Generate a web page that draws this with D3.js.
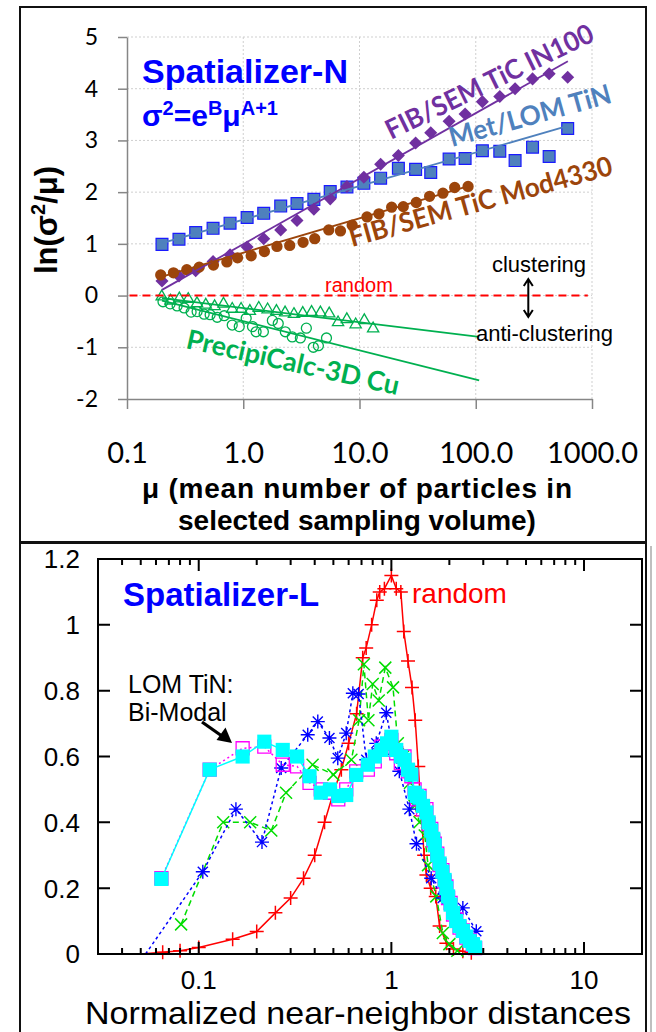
<!DOCTYPE html>
<html>
<head>
<meta charset="utf-8">
<title>Spatializer</title>
<script src="https://cdn.jsdelivr.net/npm/d3@7"></script>
<style>
  html, body { margin: 0; padding: 0; background: #fff; }
  svg { display: block; }
</style>
</head>
<body>
<div id="chart"></div>
<script>
// ---- Spatializer-N : ln(variance/mean) against mean count ----
const nTicksX = [0.1, 1, 10, 100, 1000]
const nTickLabelsX = ['0.1', '1.0', '10.0', '100.0', '1000.0']
const nTicksY = [-2, -1, 0, 1, 2, 3, 4, 5]

// sampling volumes used for the TiN and IN100 data sets
const muSteps = [0.2, 0.28, 0.39, 0.55, 0.77, 1.08, 1.5, 2.1, 2.9, 4.05, 5.6, 7.8, 10.9, 15.2, 21.6, 30.4, 41, 59, 81, 114, 161, 218, 308, 428, 618]
const metLomTiN = [0.99, 1.09, 1.22, 1.30, 1.40, 1.51, 1.59, 1.73, 1.78, 1.86, 2.01, 2.10, 2.17, 2.27, 2.46, 2.44, 2.38, 2.64, 2.65, 2.80, 2.79, 2.61, 2.87, 2.69, 3.23]
const fibIN100 = [0.28, 0.38, 0.48, 0.66, 0.79, 0.94, 1.10, 1.27, 1.45, 1.67, 1.87, 2.11, 2.29, 2.54, 2.71, 2.95, 3.15, 3.37, 3.51, 3.75, 3.85, 4.00, 4.19, 4.29, 4.22]

const muMod4330 = [0.195, 0.251, 0.327, 0.418, 0.554, 0.723, 0.893, 1.17, 1.52, 1.95, 2.51, 3.27, 4.12, 5.44, 6.86, 8.65, 11.6, 14.7, 18.9, 23.8, 30.8, 40.1, 52.2, 65.9, 85.9]
const fibMod4330 = [0.40, 0.44, 0.50, 0.55, 0.59, 0.65, 0.73, 0.77, 0.85, 0.95, 0.97, 1.03, 1.10, 1.27, 1.25, 1.36, 1.52, 1.58, 1.71, 1.72, 1.80, 1.92, 1.98, 2.09, 2.11]

const muCuTri = [0.199, 0.237, 0.282, 0.336, 0.400, 0.476, 0.567, 0.676, 0.804, 0.958, 1.14, 1.36, 1.62, 1.93, 2.29, 2.73, 3.25, 3.87, 4.61, 5.49, 6.54, 7.78, 9.27, 11.0, 13.1]
const cuTri = [-0.02, -0.10, -0.06, -0.07, -0.15, -0.18, -0.21, -0.16, -0.26, -0.26, -0.30, -0.24, -0.27, -0.30, -0.33, -0.36, -0.34, -0.32, -0.33, -0.35, -0.52, -0.46, -0.56, -0.48, -0.64]

const muCuCirc = [0.204, 0.235, 0.270, 0.310, 0.356, 0.401, 0.461, 0.519, 0.597, 0.686, 0.804, 0.924, 1.06, 1.20, 1.29, 1.49, 1.78, 2.00, 2.30, 2.64, 3.10, 3.49, 4.01, 4.43, 5.20]
const cuCirc = [-0.12, -0.16, -0.20, -0.24, -0.32, -0.31, -0.36, -0.37, -0.42, -0.39, -0.57, -0.60, -0.44, -0.60, -0.70, -0.70, -0.48, -0.54, -0.70, -0.80, -0.82, -0.63, -1.00, -0.97, -0.82]

// fitted power laws as [mu, ln(var/mean)] end points
const fitTiN = [[0.19, 1.0], [620, 3.28]]
const fitIN100 = [[0.2, 0.11], [620, 4.53]]
const fitMod4330 = [[0.19, 0.35], [88, 2.12]]
const fitCuTri = [[0.2, -0.05], [107, -0.80]]
const fitCuCirc = [[0.2, -0.10], [107, -1.64]]
const randomLevel = [[0.105, 0], [920, 0]]

// ---- Spatializer-L : near-neighbour distance distributions ----
const lTicksX = [0.1, 1, 10]
const lTickLabelsX = ['0.1', '1', '10']
const lTicksY = [0, 0.2, 0.4, 0.6, 0.8, 1, 1.2]
const lTickLabelsY = ['0', '0.2', '0.4', '0.6', '0.8', '1', '1.2']

const dRandom = [0.05, 0.065, 0.08, 0.1, 0.15, 0.2, 0.25, 0.3, 0.35, 0.4, 0.45, 0.5, 0.55, 0.6, 0.66, 0.71, 0.74, 0.79, 0.84, 0.87, 0.92, 1.0, 1.06, 1.12, 1.16, 1.22, 1.28, 1.33, 1.38, 1.43, 1.48, 1.52, 1.6, 1.7, 1.78, 1.93, 2.1, 2.35, 2.6, 2.99]
const pRandom = [0, 0.005, 0.01, 0.02, 0.045, 0.068, 0.125, 0.17, 0.23, 0.30, 0.40, 0.49, 0.56, 0.64, 0.73, 0.90, 0.93, 1.0, 1.075, 1.10, 1.11, 1.15, 1.11, 1.10, 0.98, 0.89, 0.81, 0.71, 0.57, 0.42, 0.30, 0.24, 0.20, 0.175, 0.085, 0.033, 0.015, 0.008, 0.004, 0]

const dGreen = [0.081, 0.134, 0.185, 0.238, 0.284, 0.39, 0.50, 0.62, 0.68, 0.72, 0.76, 0.80, 0.86, 0.93, 1.02, 1.08, 1.15, 1.25, 1.32, 1.40, 1.49, 1.55, 1.71, 1.85, 2.0, 2.2]
const pGreen = [0.09, 0.40, 0.40, 0.375, 0.49, 0.575, 0.545, 0.59, 0.71, 0.88, 0.71, 0.82, 0.77, 0.87, 0.81, 0.64, 0.60, 0.52, 0.45, 0.40, 0.36, 0.27, 0.175, 0.064, 0.03, 0.01]

const dBlue = [0.053, 0.105, 0.156, 0.213, 0.268, 0.368, 0.415, 0.477, 0.527, 0.583, 0.631, 0.676, 0.741, 0.835, 0.941, 1.02, 1.10, 1.24, 1.35, 1.61, 1.85, 2.13, 2.35, 2.76]
const pBlue = [0, 0.25, 0.44, 0.34, 0.565, 0.666, 0.706, 0.656, 0.595, 0.671, 0.792, 0.79, 0.59, 0.64, 0.733, 0.62, 0.555, 0.44, 0.335, 0.23, 0.17, 0.124, 0.14, 0.069]

const dTiN = [0.064, 0.114, 0.169, 0.219, 0.273, 0.324, 0.376, 0.43, 0.48, 0.53, 0.583, 0.657, 0.755, 0.82, 0.887, 0.95, 1.0, 1.06, 1.12, 1.17, 1.22, 1.27, 1.32, 1.36, 1.40, 1.46, 1.52, 1.56, 1.61, 1.65, 1.68, 1.73, 1.78, 1.84, 1.89, 1.93, 1.97, 2.03, 2.09, 2.17, 2.26, 2.35, 2.45, 2.55, 2.65, 2.72]
const pTiNMagenta = [0.23, 0.56, 0.625, 0.63, 0.575, 0.57, 0.52, 0.50, 0.49, 0.47, 0.50, 0.555, 0.56, 0.585, 0.63, 0.62, 0.65, 0.61, 0.58, 0.60, 0.555, 0.54, 0.50, 0.47, 0.48, 0.44, 0.44, 0.395, 0.38, 0.345, 0.335, 0.305, 0.27, 0.255, 0.22, 0.205, 0.17, 0.155, 0.12, 0.105, 0.08, 0.072, 0.05, 0.042, 0.028, 0.018]
const pTiNCyan = [0.228, 0.56, 0.60, 0.645, 0.62, 0.60, 0.54, 0.49, 0.50, 0.48, 0.483, 0.544, 0.575, 0.60, 0.62, 0.64, 0.66, 0.62, 0.60, 0.59, 0.56, 0.545, 0.49, 0.48, 0.475, 0.45, 0.43, 0.40, 0.375, 0.35, 0.33, 0.30, 0.275, 0.25, 0.225, 0.20, 0.175, 0.15, 0.125, 0.10, 0.085, 0.07, 0.053, 0.04, 0.03, 0.02]

const W = 656
const H = 1032
const ARIAL = "'Liberation Sans', Arial, sans-serif"
const CALIBRI = "Lato, 'Open Sans', sans-serif"

const svg = d3.select('#chart')
  .append('svg')
  .attr('width', W)
  .attr('height', H)
  .style('font-family', ARIAL)

// panel frames
svg.append('rect')
  .attr('x', 20).attr('y', 7).attr('width', 626).attr('height', 535)
  .attr('fill', 'none').attr('stroke', '#111').attr('stroke-width', 2)
svg.append('rect')
  .attr('x', 20).attr('y', 543).attr('width', 626).attr('height', 500)
  .attr('fill', 'none').attr('stroke', '#111').attr('stroke-width', 2)
svg.append('line')
  .attr('x1', 651).attr('x2', 651).attr('y1', 546).attr('y2', H)
  .attr('stroke', '#aaa').attr('stroke-width', 1.5)

const plus = s => `M${-s},0H${s}M0,${-s}V${s}`
const cross = s => `M${-s},${-s}L${s},${s}M${-s},${s}L${s},${-s}`
const star = s => plus(s) + cross(s * 0.72)

// ================= top panel =================
const xN = d3.scaleLog().domain([0.1, 1000]).range([127, 592])
const yN = d3.scaleLinear().domain([-2, 5]).range([399, 37])
const gN = svg.append('g')

// dotted grid
gN.append('g').selectAll('line')
  .data(nTicksX.slice(1))
  .join('line')
  .attr('x1', d => xN(d)).attr('x2', d => xN(d))
  .attr('y1', yN(5)).attr('y2', yN(-2))
  .attr('stroke', '#cfcfcf').attr('stroke-dasharray', '2,2')
gN.append('g').selectAll('line')
  .data(nTicksY.slice(1))
  .join('line')
  .attr('x1', xN(0.1)).attr('x2', xN(1000))
  .attr('y1', d => yN(d)).attr('y2', d => yN(d))
  .attr('stroke', '#cfcfcf').attr('stroke-dasharray', '2,2')

// axes
const axL = gN.append('g')
  .attr('transform', `translate(${xN(0.1)},0)`)
  .call(d3.axisLeft(yN).tickValues(nTicksY).tickSize(9).tickSizeOuter(0).tickPadding(20).tickFormat(d => String(d)))
const axB = gN.append('g')
  .attr('transform', `translate(0,${yN(-2)})`)
  .call(d3.axisBottom(xN).tickValues(nTicksX).tickSize(10).tickSizeOuter(0).tickFormat((d, i) => nTickLabelsX[i]))
for (const ax of [axL, axB]) {
  ax.select('.domain').attr('stroke', '#868686').attr('stroke-width', 1.5)
  ax.selectAll('.tick line').attr('stroke', '#868686').attr('stroke-width', 1.5)
}
axL.selectAll('text').attr('font-family', CALIBRI).attr('font-size', 23).attr('fill', '#000')
axB.selectAll('text').attr('font-family', CALIBRI).attr('font-size', 29).attr('fill', '#000')
  .attr('y', 64).attr('dy', null)

// markers
const pts = (xs, ys) => d3.zip(xs, ys)
const lineN = d3.line().x(d => xN(d[0])).y(d => yN(d[1]))

gN.append('g').selectAll('path')
  .data(pts(muCuCirc, cuCirc))
  .join('path')
  .attr('transform', d => `translate(${xN(d[0])},${yN(d[1])})`)
  .attr('d', d3.symbol(d3.symbolCircle, 78))
  .attr('fill', 'none').attr('stroke', '#00B050').attr('stroke-width', 1.3)
gN.append('g').selectAll('path')
  .data(pts(muCuTri, cuTri))
  .join('path')
  .attr('transform', d => `translate(${xN(d[0])},${yN(d[1])})`)
  .attr('d', d3.symbol(d3.symbolTriangle, 55))
  .attr('fill', 'none').attr('stroke', '#00B050').attr('stroke-width', 1.3)
gN.append('g').selectAll('path')
  .data(pts(muSteps, metLomTiN))
  .join('path')
  .attr('transform', d => `translate(${xN(d[0])},${yN(d[1])})`)
  .attr('d', d3.symbol(d3.symbolSquare, 140))
  .attr('fill', '#4F81BD').attr('stroke', '#1a1aff').attr('stroke-width', 1.2)
gN.append('g').selectAll('path')
  .data(pts(muSteps, fibIN100))
  .join('path')
  .attr('transform', d => `translate(${xN(d[0])},${yN(d[1])}) rotate(45)`)
  .attr('d', d3.symbol(d3.symbolSquare, 85))
  .attr('fill', '#7030A0')
gN.append('g').selectAll('path')
  .data(pts(muMod4330, fibMod4330))
  .join('path')
  .attr('transform', d => `translate(${xN(d[0])},${yN(d[1])})`)
  .attr('d', d3.symbol(d3.symbolCircle, 100))
  .attr('fill', '#9C450B')

// trend lines
const fits = [
  [fitTiN, '#4F81BD'], [fitIN100, '#7030A0'], [fitMod4330, '#9C450B'],
  [fitCuTri, '#00B050'], [fitCuCirc, '#00B050']
]
fits.forEach(([f, c]) => {
  gN.append('path').datum(f).attr('d', lineN)
    .attr('fill', 'none').attr('stroke', c).attr('stroke-width', 1.8)
})
gN.append('path').datum(randomLevel).attr('d', lineN)
  .attr('fill', 'none').attr('stroke', '#ff0000').attr('stroke-width', 2)
  .attr('stroke-dasharray', '8,5')

// labels
gN.append('text').attr('x', 142).attr('y', 83)
  .attr('font-size', 34).attr('font-weight', 'bold').attr('fill', '#0000ff')
  .text('Spatializer-N')
const eq = gN.append('text').attr('x', 142).attr('y', 126)
  .attr('font-size', 30).attr('font-weight', 'bold').attr('fill', '#0000ff')
eq.append('tspan').text('σ')
eq.append('tspan').attr('font-size', 20).attr('dy', -11).text('2')
eq.append('tspan').attr('dy', 11).text('=e')
eq.append('tspan').attr('font-size', 20).attr('dy', -11).text('B')
eq.append('tspan').attr('dy', 11).text('μ')
eq.append('tspan').attr('font-size', 20).attr('dy', -11).text('A+1')

const slanted = [
  ['FIB/SEM TiC IN100', '#7030A0', 391, 140, -26, 228],
  ['Met/LOM TiN', '#4F81BD', 452, 147, -15.5, 167],
  ['FIB/SEM TiC Mod4330', '#9C450B', 352, 247, -15.5, 272],
  ['PrecipiCalc-3D Cu', '#00B050', 185, 348, 12.5, 217]
]
slanted.forEach(([t, c, x, y, a, len]) => {
  gN.append('text')
    .attr('transform', `translate(${x},${y}) rotate(${a})`)
    .attr('font-family', CALIBRI).attr('font-weight', 'bold').attr('font-size', 27)
    .attr('fill', c)
    .attr('textLength', len).attr('lengthAdjust', 'spacingAndGlyphs')
    .text(t)
})

gN.append('text').attr('x', 325).attr('y', 292)
  .attr('font-size', 20).attr('fill', '#ff0000').text('random')
gN.append('text').attr('x', 539).attr('y', 272).attr('text-anchor', 'middle')
  .attr('font-size', 22).attr('fill', '#000').text('clustering')
gN.append('text').attr('x', 476).attr('y', 341)
  .attr('font-size', 22).attr('fill', '#000').text('anti-clustering')
gN.append('path')
  .attr('d', 'M528.3,279V317M523.8,286L528.3,279L532.8,286M523.8,310L528.3,317L532.8,310')
  .attr('fill', 'none').attr('stroke', '#000').attr('stroke-width', 2)

const yTitle = gN.append('text')
  .attr('transform', 'translate(57,220) rotate(-90)')
  .attr('text-anchor', 'middle').attr('font-size', 31).attr('font-weight', 'bold')
yTitle.append('tspan').text('ln(σ')
yTitle.append('tspan').attr('font-size', 20).attr('dy', -12).text('2')
yTitle.append('tspan').attr('dy', 12).text('/μ)')

gN.append('text').attr('x', 357).attr('y', 498).attr('text-anchor', 'middle')
  .attr('font-size', 28).attr('font-weight', 'bold')
  .attr('textLength', 430).attr('lengthAdjust', 'spacing')
  .text('μ (mean number of particles in')
gN.append('text').attr('x', 357).attr('y', 530).attr('text-anchor', 'middle')
  .attr('font-size', 28).attr('font-weight', 'bold')
  .text('selected sampling volume)')

// ================= bottom panel =================
const xL = d3.scaleLog().domain([0.03, 20]).range([98, 642])
const yL = d3.scaleLinear().domain([0, 1.2]).range([954, 559])
const gL = svg.append('g')
const lineL = d3.line().x(d => xL(d[0])).y(d => yL(d[1]))

function series(xs, ys, color, dash, marker, width) {
  const data = pts(xs, ys)
  gL.append('path').datum(data).attr('d', lineL)
    .attr('fill', 'none').attr('stroke', color).attr('stroke-width', width)
    .attr('stroke-dasharray', dash)
  return gL.append('g').selectAll('path')
    .data(data.filter(d => d[1] > 0))
    .join('path')
    .attr('transform', d => `translate(${xL(d[0])},${yL(d[1])})`)
    .attr('d', marker)
}

series(dRandom, pRandom, '#ff0000', null, plus(7), 1.5)
  .attr('fill', 'none').attr('stroke', '#ff0000').attr('stroke-width', 1.5)
series(dGreen, pGreen, '#00dd00', '6,4', cross(6), 1.5)
  .attr('fill', 'none').attr('stroke', '#00dd00').attr('stroke-width', 1.5)
series(dBlue, pBlue, '#0000ff', '3,3', star(7), 1.5)
  .attr('fill', 'none').attr('stroke', '#0000ff').attr('stroke-width', 1.4)
series(dTiN, pTiNMagenta, '#ff00ff', '2,3', d3.symbol(d3.symbolSquare, 170)(), 1.5)
  .attr('fill', 'none').attr('stroke', '#ff00ff').attr('stroke-width', 1.3)
series(dTiN, pTiNCyan, '#00ffff', null, d3.symbol(d3.symbolSquare, 200)(), 1.5)
  .attr('fill', '#00ffff')

// box, ticks and labels
gL.append('rect')
  .attr('x', xL(0.03)).attr('y', yL(1.2))
  .attr('width', xL(20) - xL(0.03)).attr('height', yL(0) - yL(1.2))
  .attr('fill', 'none').attr('stroke', '#000').attr('stroke-width', 2)

const xMinor = xL.ticks().filter(d => d > 0.03 && d < 20)
gL.append('g').selectAll('path')
  .data(xMinor)
  .join('path')
  .attr('d', d => {
    const len = lTicksX.includes(d) ? 12 : 6
    return `M${xL(d)},${yL(0)}v${-len}M${xL(d)},${yL(1.2)}v${len}`
  })
  .attr('stroke', '#000').attr('stroke-width', 2)
gL.append('g').selectAll('path')
  .data(lTicksY.slice(1, -1))
  .join('path')
  .attr('d', d => `M${xL(0.03)},${yL(d)}h12M${xL(20)},${yL(d)}h-12`)
  .attr('stroke', '#000').attr('stroke-width', 2)

gL.append('g').selectAll('text')
  .data(lTicksY)
  .join('text')
  .attr('x', 80).attr('y', d => yL(d)).attr('dy', '0.36em')
  .attr('text-anchor', 'end').attr('font-size', 26)
  .text((d, i) => lTickLabelsY[i])
gL.append('g').selectAll('text')
  .data(lTicksX)
  .join('text')
  .attr('x', d => xL(d)).attr('y', 989)
  .attr('text-anchor', 'middle').attr('font-size', 26)
  .text((d, i) => lTickLabelsX[i])
gL.append('text').attr('x', 358).attr('y', 1024).attr('text-anchor', 'middle')
  .attr('font-size', 32).attr('textLength', 546).attr('lengthAdjust', 'spacingAndGlyphs')
  .text('Normalized near-neighbor distances')

gL.append('text').attr('x', 123).attr('y', 606)
  .attr('font-size', 33).attr('font-weight', 'bold').attr('fill', '#0000ff')
  .text('Spatializer-L')
gL.append('text').attr('x', 412).attr('y', 603)
  .attr('font-size', 28).attr('fill', '#ff0000').text('random')
gL.append('text').attr('x', 128).attr('y', 693)
  .attr('font-size', 25).text('LOM TiN:')
gL.append('text').attr('x', 128).attr('y', 721)
  .attr('font-size', 25).text('Bi-Modal')
gL.append('path').attr('d', 'M202,722L224,737.5')
  .attr('stroke', '#000').attr('stroke-width', 3.2).attr('fill', 'none')
gL.append('path').attr('d', 'M232,743L216.5,740L225.5,727.5Z')
  .attr('fill', '#000')
</script>
</body>
</html>
